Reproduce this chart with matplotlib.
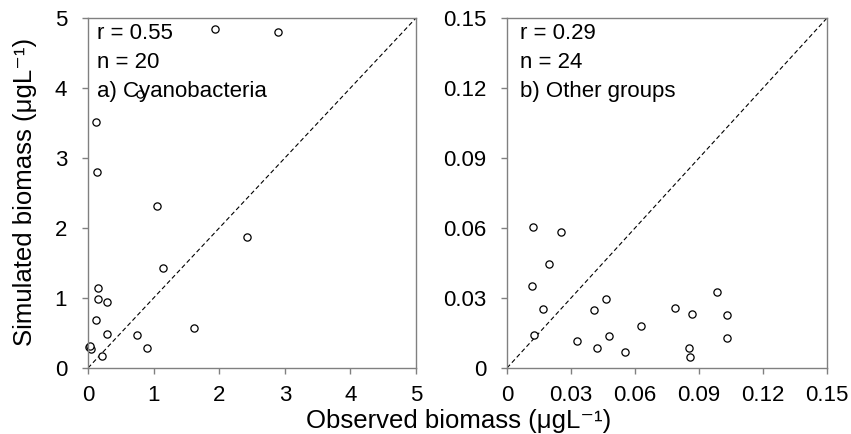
import matplotlib
matplotlib.use("Agg")
import matplotlib.pyplot as plt

plt.rcParams['font.family'] = ['Liberation Sans', 'DejaVu Sans']

# Panel a) Cyanobacteria: observed vs simulated biomass
cyano_obs = [1.94, 2.89, 0.12, 0.13, 0.79, 1.05, 2.43, 1.14, 0.16, 0.157,
             0.285, 0.12, 0.29, 0.75, 1.61, 0.90, 0.01, 0.046, 0.22, 0.03]
cyano_sim = [4.85, 4.80, 3.51, 2.80, 3.91, 2.32, 1.876, 1.43, 1.14, 0.98,
             0.95, 0.686, 0.486, 0.47, 0.567, 0.28, 0.30, 0.27, 0.167, 0.31]

# Panel b) Other groups
other_obs = [0.0123, 0.0253, 0.0198, 0.0117, 0.0170, 0.0125, 0.0327, 0.0406,
             0.0463, 0.0424, 0.0480, 0.0553, 0.0627, 0.0786, 0.0866, 0.0853,
             0.0859, 0.0985, 0.1033, 0.1030]
other_sim = [0.0604, 0.0583, 0.0446, 0.0353, 0.0254, 0.0141, 0.0114, 0.0247,
             0.0296, 0.0084, 0.0136, 0.0069, 0.0180, 0.0257, 0.0231, 0.0084,
             0.0047, 0.0324, 0.0226, 0.0130]

cyano_ticks = [0, 1, 2, 3, 4, 5]
cyano_ticklabels = ["0", "1", "2", "3", "4", "5"]
other_ticks = [0, 0.03, 0.06, 0.09, 0.12, 0.15]
other_ticklabels = ["0", "0.03", "0.06", "0.09", "0.12", "0.15"]

panels = [
    dict(x=cyano_obs, y=cyano_sim, ticks=cyano_ticks, labels=cyano_ticklabels,
         lim=5, tx=0.026, text=["r = 0.55", "n = 20", "a) Cyanobacteria"]),
    dict(x=other_obs, y=other_sim, ticks=other_ticks, labels=other_ticklabels,
         lim=0.15, tx=0.04, text=["r = 0.29", "n = 24", "b) Other groups"]),
]

fig = plt.figure(figsize=(8.51, 4.34), dpi=100)
rects = [[88 / 851, 1 - 368 / 434, 328 / 851, 350 / 434],
         [507 / 851, 1 - 368 / 434, 320 / 851, 350 / 434]]

spine_col = "#808080"
fs = 16

for rect, p in zip(rects, panels):
    ax = fig.add_axes(rect)
    lim = p["lim"]
    ax.plot([0, lim], [0, lim], color="black", lw=0.8, ls=(0, (4, 2.5)))
    ax.plot(p["x"], p["y"], ls="none", marker="o", ms=5.2,
            mfc="white", mec="black", mew=0.9, clip_on=False)
    ax.set_xlim(0, lim)
    ax.set_ylim(0, lim)
    ax.set_xticks(p["ticks"])
    ax.set_xticklabels(p["labels"])
    ax.set_yticks(p["ticks"])
    ax.set_yticklabels(p["labels"])
    for s in ax.spines.values():
        s.set_color(spine_col)
        s.set_linewidth(1.0)
    ax.tick_params(direction="out", length=4, width=1.0, color=spine_col,
                   labelsize=fs)
    ax.tick_params(axis="x", pad=8)
    ax.tick_params(axis="y", pad=11)
    for i, t in enumerate(p["text"]):
        ax.text(p["tx"], 0.955 - i * 0.083, t, transform=ax.transAxes,
                fontsize=fs, ha="left", va="center")

fig.text(459 / 851, 1 - 421 / 434, "Observed biomass (\u03bcgL\u207b\u00b9)",
         fontsize=18.5, ha="center", va="center")
fig.text(25 / 851, 1 - 192 / 434, "Simulated biomass (\u03bcgL\u207b\u00b9)",
         fontsize=18.5, ha="center", va="center", rotation=90)

fig.savefig("out.png", dpi=100)
